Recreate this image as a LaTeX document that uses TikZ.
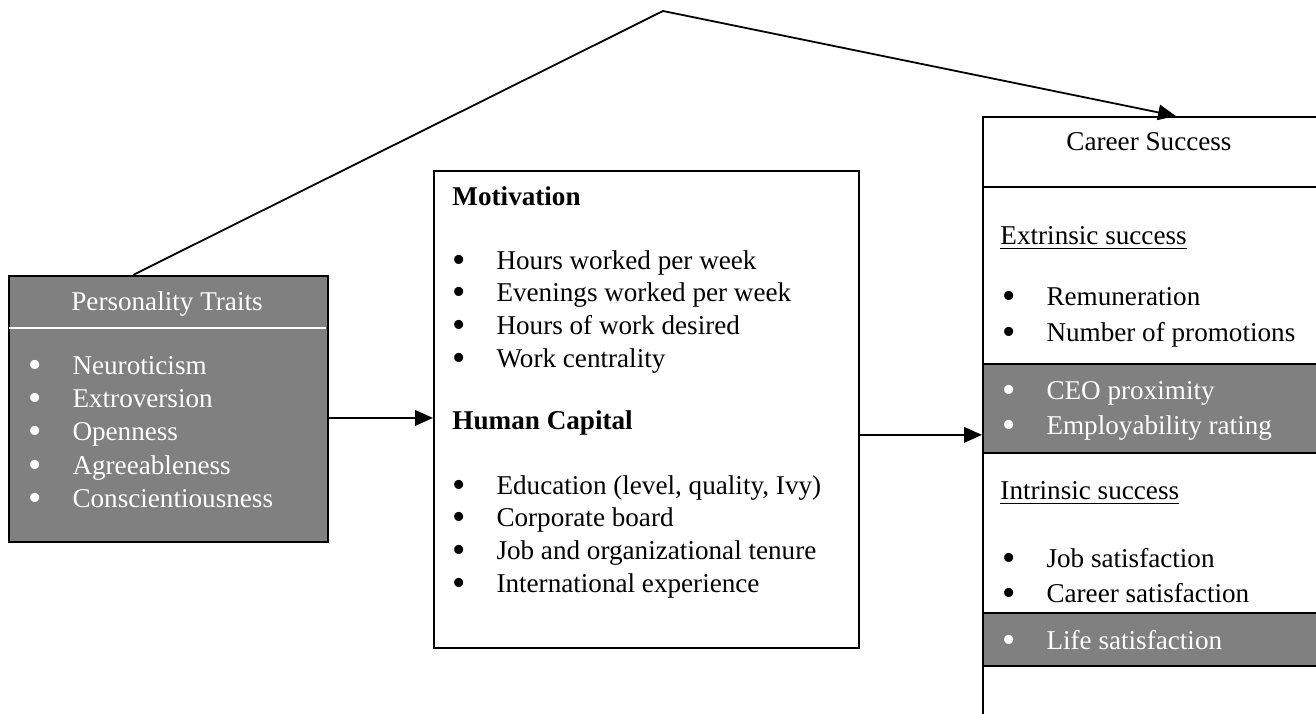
\documentclass[tikz,border=0pt]{standalone}
\usepackage{fontspec}
\setmainfont{Liberation Serif}
\usetikzlibrary{arrows.meta,positioning,calc}

\newcommand{\unitpx}{0.42pt}
\newcommand{\bulletitem}[1]{\makebox[18.5pt][l]{\smash{\raisebox{-1.3pt}{\scalebox{1.4}{\textbullet}}}}#1}
\definecolor{boxgray}{HTML}{808080}

\begin{document}
\begin{tikzpicture}[x=\unitpx, y=-\unitpx,
    box/.style={rectangle, draw, line width=0.75pt, anchor=north west, inner sep=0pt},
    darkbox/.style={box, fill=boxgray},
    label/.style={anchor=base west, inner sep=0pt, yshift=-1.2pt, font=\fontsize{11.4}{13.5}\selectfont},
    onDark/.style={label, text=white},
    link/.style={-{Triangle[length=7.5pt,width=6.5pt]}, line width=0.75pt}
]
\useasboundingbox (0,0) rectangle (1316,713);
\clip (0,0) rectangle (1316,713);

% Personality traits
\node[darkbox, minimum width=319*\unitpx, minimum height=266*\unitpx] (traits) at (8,275) {};
\draw[white, line width=0.6pt] (9,328) -- (326,328);
\node[onDark, anchor=base] (traitsTitle) at (167,308) {Personality Traits};
\node[onDark] (neuro) at (28,372) {\bulletitem{Neuroticism}};
\node[onDark] (extro) at (28,405) {\bulletitem{Extroversion}};
\node[onDark] (open) at (28,438) {\bulletitem{Openness}};
\node[onDark] (agree) at (28,472) {\bulletitem{Agreeableness}};
\node[onDark] (consc) at (28,505) {\bulletitem{Conscientiousness}};

% Motivation and human capital
\node[box, minimum width=425*\unitpx, minimum height=477*\unitpx] (motiv) at (433,170) {};
\node[label] (motivTitle) at (452,203) {\textbf{Motivation}};
\node[label] (hours) at (452,267) {\bulletitem{Hours worked per week}};
\node[label] (evenings) at (452,299) {\bulletitem{Evenings worked per week}};
\node[label] (desired) at (452,332) {\bulletitem{Hours of work desired}};
\node[label] (central) at (452,365) {\bulletitem{Work centrality}};
\node[label] (capTitle) at (452,427) {\textbf{Human Capital}};
\node[label] (educ) at (452,492) {\bulletitem{Education (level, quality, Ivy)}};
\node[label] (board) at (452,524) {\bulletitem{Corporate board}};
\node[label] (tenure) at (452,557) {\bulletitem{Job and organizational tenure}};
\node[label] (intl) at (452,590) {\bulletitem{International experience}};

% Career success
\node[box, minimum width=386*\unitpx, minimum height=644*\unitpx] (success) at (982,116) {};
\draw[line width=0.75pt] (982,187) -- (1368,187);
\node[darkbox, minimum width=386*\unitpx, minimum height=89*\unitpx] (extBand) at (982,363) {};
\node[darkbox, minimum width=386*\unitpx, minimum height=53*\unitpx] (lifeBand) at (982,612) {};
\node[label, anchor=base] (successTitle) at (1149,148) {Career Success};
\node[label] (extTitle) at (1000,242) {\underline{Extrinsic success}};
\node[label] (remun) at (1002,303) {\bulletitem{Remuneration}};
\node[label] (promo) at (1002,339) {\bulletitem{Number of promotions}};
\node[onDark] (ceo) at (1002,397) {\bulletitem{CEO proximity}};
\node[onDark] (employ) at (1002,432) {\bulletitem{Employability rating}};
\node[label] (intTitle) at (1000,497) {\underline{Intrinsic success}};
\node[label] (jobSat) at (1002,565) {\bulletitem{Job satisfaction}};
\node[label] (carSat) at (1002,600) {\bulletitem{Career satisfaction}};
\node[onDark] (lifeSat) at (1002,647) {\bulletitem{Life satisfaction}};

% Relationships
\coordinate (peak) at (663,11);
\coordinate (traitsOut) at ([yshift=-3.8pt]traits.east);
\coordinate (motivOut) at ([yshift=-10.7pt]motiv.east);
\draw[link] ([xshift=52.5pt]traits.north west) -- (peak) -- (success.north);
\draw[link] (traitsOut) -- (traitsOut -| motiv.west);
\draw[link] (motivOut) -- (motivOut -| success.west);

\end{tikzpicture}
\end{document}
